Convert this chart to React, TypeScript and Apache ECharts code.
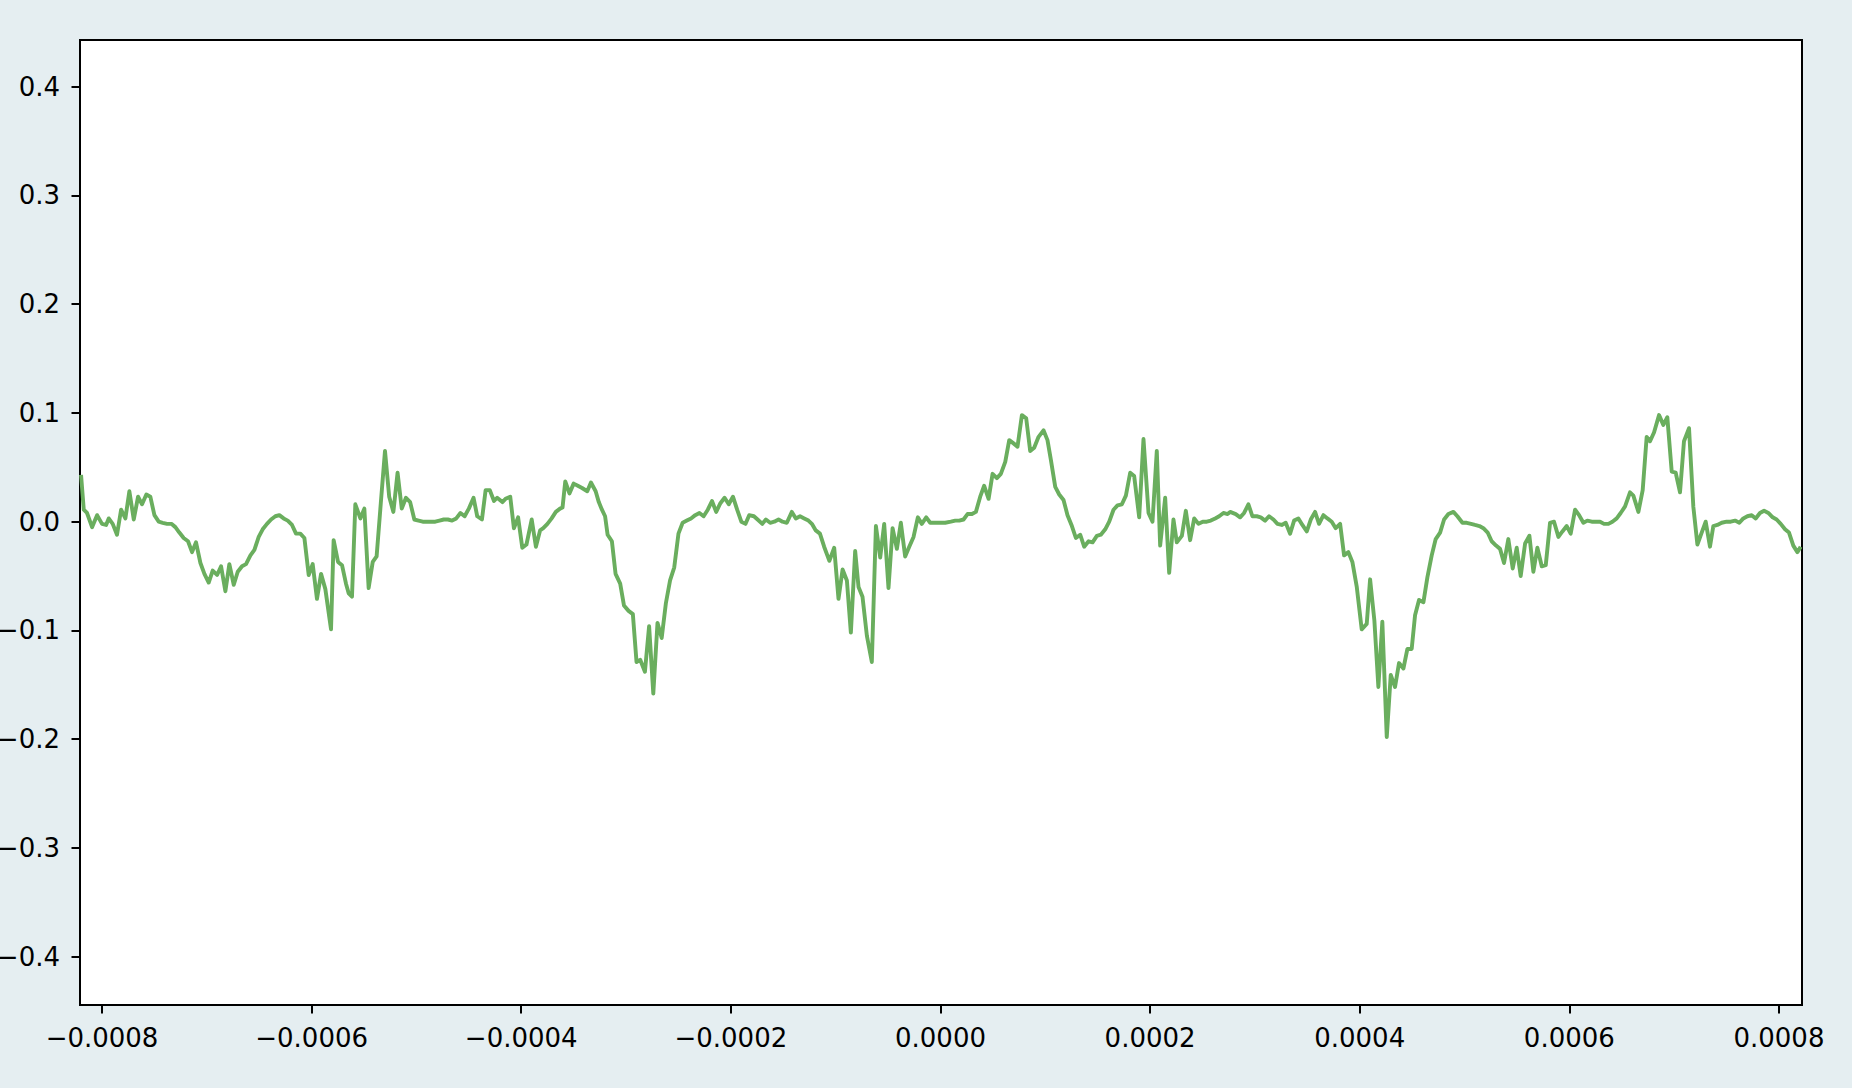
import React, { useEffect, useRef } from "react";
import * as echarts from "echarts";

// time in microseconds, signal value
const timeUs: number[] = [
  -820, -817.4, -814.3, -809.5, -804.7, -800, -796.1, -793.6, -789.8, -785.7,
  -781.8, -777.7, -773.9, -769.7, -765.6, -761.8, -757.7, -753.9, -750, -745.9,
  -742.1, -737.9, -733.8, -730, -726.2, -722.1, -717.9, -714.1, -710.3, -706.1,
  -702.3, -698.2, -694.4, -690.2, -686.4, -682.3, -678.5, -674.3, -670.5, -666.4,
  -662.6, -658.4, -654.6, -650.5, -646.7, -642.6, -638.7, -634.6, -630.8, -626.7,
  -622.8, -618.7, -614.9, -610.8, -606.9, -602.8, -599, -594.9, -591, -586.9,
  -583.1, -581.5, -579, -574.8, -571, -567.2, -564.6, -561.5, -558.3, -553.5,
  -549.7, -545.6, -541.7,
  -538, -534, -530, -526, -522, -518, -514, -510, -506, -502,
  -498, -494, -490, -486, -482, -478, -474, -470, -466, -462,
  -458, -454, -450, -445.5, -442, -437.5, -434, -430, -426, -423,
  -418, -415, -410.5, -407, -403, -399, -395, -390, -386, -382,
  -379, -375, -371, -367, -363, -360.6, -358, -354, -350, -346,
  -342, -337, -333.5, -329, -326, -323, -320, -317.6, -313.5, -310,
  -305.6, -302, -297.6, -293.5, -290, -286.5, -282, -278, -274, -270,
  -266, -262, -258, -254, -250, -246, -242, -238, -234, -230,
  -226, -222, -218, -214, -210, -206, -202, -198, -194, -190,
  -186, -182.5, -178, -174.5, -170, -166.6, -162.5, -158.6, -154.5, -150.7,
  -146.6, -141.8, -138, -134, -130, -126, -122.7, -119, -115, -111,
  -106, -101.4, -97.3, -93.4, -89.3, -85.5, -81.4, -78.2, -74.4, -70.2,
  -65.5, -61.6, -57.5, -53.7, -49.6, -45.7, -41.6, -37.8, -33.7, -29.8,
  -25.7, -21.6, -17.8, -13.6, -9.8, -5, 0, 4.5,
  9.9, 14.1, 17.9, 22, 25.8, 30, 33.8, 37.9, 41.7, 45.9,
  49.7, 53.8, 57.6, 61.8, 65.6, 69.7, 73.5, 77.7, 81.8, 85.6,
  89.4, 93.6, 98.3, 102.1, 105.3, 109.5, 113.3, 117.4, 121.2, 125.4,
  129.2, 133.3, 137.1, 141.3, 145.1, 149.2, 153, 157.2, 161, 165.1,
  168.9, 173.1, 176.9, 181, 184.8, 189.6, 193.7, 198.5, 202.3, 206.4,
  209.6, 214.4, 218.2, 222.3, 225.5, 230.3, 234.1, 238.2, 242.1, 246.2,
  250.3, 254.1, 257.9, 262.1, 265.9, 270, 273.9, 276.4,
  281.7, 285.9, 289.7, 293.8, 297.6, 301.8, 305.6, 309.7, 313.5, 317.7,
  321.5, 325.6, 329.4, 333.6, 337.4, 341.5, 345.3, 349.5, 353.3, 357.4,
  361.2, 365.4, 369.2, 373.3, 377.1, 381.3, 385.1, 389.2, 393, 397.2,
  401.9, 406.7, 409.9, 414, 417.8, 421.6, 425.8, 429.6, 433.7, 437.5,
  441.7, 445.5, 449.6, 452.8, 456.6, 460.8, 464.6, 468.7, 472.5, 476.7,
  480.5, 484.6, 489.4, 493.2, 498, 502.1, 506.2, 510, 514.2, 518,
  522.1, 525.9, 530.1, 533.9, 537.7, 541.8, 546,
  549.8, 553.6, 557.8, 561.9, 565.7, 569.5, 573.7, 577.5, 581.6, 585.4,
  589.6, 593.4, 597.5, 601.3, 605.5, 609.3, 613.4, 617.2, 621.4, 625.2,
  629.3, 633.1, 637.3, 641.1, 645.2, 649, 653.2, 657.9, 661.1, 665.9,
  670, 673.8, 677, 680.8, 685.6, 689.7, 693.5, 697.7, 701.5, 705.6,
  709.4, 714.2, 718.3, 722.2, 726.3, 730.1, 734.2, 737.4, 741.2, 745.4,
  750.1, 754, 758.1, 762.2, 766, 769.9, 774, 777.8, 781.9, 785.8,
  789.9, 794, 797.8, 801.7, 805.8, 809.6, 813.7, 817.6, 820.7,
];

const signal: number[] = [
  0.043, 0.011, 0.008, -0.005, 0.006, -0.002, -0.003, 0.003, -0.002, -0.012,
  0.011, 0.003, 0.028, 0.002, 0.023, 0.016, 0.025, 0.023, 0.006, 0.0,
  -0.001, -0.002, -0.002, -0.005, -0.01, -0.015, -0.018, -0.028, -0.019, -0.038,
  -0.048, -0.056, -0.045, -0.049, -0.041, -0.064, -0.039, -0.058, -0.046, -0.041,
  -0.039, -0.031, -0.026, -0.014, -0.007, -0.002, 0.002, 0.005, 0.006, 0.003,
  0.001, -0.003, -0.011, -0.011, -0.015, -0.049, -0.039, -0.071, -0.048, -0.062,
  -0.088, -0.099, -0.017, -0.037, -0.04, -0.057, -0.066, -0.069, 0.016, 0.003,
  0.012, -0.061, -0.037,
  -0.032, 0.017, 0.065, 0.023, 0.009, 0.045, 0.012, 0.022, 0.018, 0.002,
  0.001, 0.0, 0.0, 0.0, 0.0, 0.001, 0.002, 0.002, 0.001, 0.003,
  0.008, 0.005, 0.012, 0.022, 0.005, 0.002, 0.029, 0.029, 0.019, 0.022,
  0.018, 0.021, 0.023, -0.006, 0.004, -0.024, -0.021, 0.002, -0.023, -0.008,
  -0.006, -0.002, 0.003, 0.009, 0.012, 0.013, 0.037, 0.026, 0.035, 0.033,
  0.031, 0.028, 0.036, 0.028, 0.018, 0.011, 0.005, -0.012, -0.018, -0.048,
  -0.057, -0.077, -0.082, -0.085, -0.129, -0.127, -0.138, -0.096, -0.158, -0.093,
  -0.107, -0.075, -0.054, -0.042, -0.011, -0.001, 0.001, 0.003, 0.006, 0.008,
  0.005, 0.011, 0.019, 0.009, 0.017, 0.022, 0.016, 0.023, 0.011, 0.0,
  -0.002, 0.006, 0.005, 0.002, -0.002, 0.002, -0.001, 0.0, 0.002, 0.0,
  -0.001, 0.009, 0.003, 0.005, 0.003, 0.001, -0.002, -0.008, -0.011, -0.023,
  -0.036, -0.024, -0.071, -0.044, -0.054, -0.102, -0.027, -0.06, -0.069, -0.105,
  -0.129, -0.004, -0.033, -0.002, -0.061, -0.006, -0.025, -0.001, -0.032, -0.023,
  -0.014, 0.004, -0.002, 0.004, -0.001, -0.001, -0.001, -0.001,
  0.0, 0.001, 0.001, 0.002, 0.007, 0.007, 0.009, 0.023, 0.033, 0.021,
  0.044, 0.04, 0.044, 0.055, 0.075, 0.072, 0.069, 0.098, 0.095, 0.065,
  0.068, 0.078, 0.084, 0.075, 0.057, 0.032, 0.025, 0.02, 0.006, -0.004,
  -0.015, -0.012, -0.023, -0.018, -0.019, -0.013, -0.012, -0.007, 0.0, 0.011,
  0.015, 0.016, 0.024, 0.045, 0.042, 0.004, 0.076, 0.008, 0.0, 0.065,
  -0.022, 0.022, -0.047, 0.002, -0.019, -0.013, 0.01, -0.017, 0.003, -0.002,
  0.0, 0.0, 0.001, 0.003, 0.005, 0.008, 0.007, 0.009,
  0.007, 0.004, 0.008, 0.016, 0.005, 0.005, 0.004, 0.001, 0.005, 0.002,
  -0.002, -0.003, -0.001, -0.011, 0.001, 0.003, -0.003, -0.009, 0.002, 0.009,
  -0.002, 0.006, 0.003, 0.0, -0.006, -0.002, -0.031, -0.028, -0.037, -0.06,
  -0.099, -0.094, -0.053, -0.091, -0.152, -0.092, -0.198, -0.141, -0.152, -0.13,
  -0.135, -0.117, -0.117, -0.086, -0.072, -0.074, -0.051, -0.031, -0.016, -0.01,
  0.002, 0.007, 0.009, 0.005, -0.001, -0.001, -0.002, -0.003, -0.004, -0.006,
  -0.01, -0.018, -0.022, -0.025, -0.038, -0.016, -0.043,
  -0.024, -0.05, -0.02, -0.013, -0.046, -0.024, -0.041, -0.04, -0.001, 0.0,
  -0.014, -0.009, -0.004, -0.011, 0.011, 0.006, -0.001, 0.001, 0.0, 0.0,
  0.0, -0.002, -0.002, 0.0, 0.003, 0.008, 0.014, 0.027, 0.024, 0.009,
  0.029, 0.078, 0.074, 0.082, 0.098, 0.089, 0.096, 0.046, 0.045, 0.027,
  0.074, 0.086, 0.014, -0.021, -0.01, 0.0, -0.023, -0.004, -0.003, -0.001,
  0.0, 0.0, 0.001, -0.001, 0.003, 0.005, 0.006, 0.003, 0.008, 0.01,
  0.008, 0.004, 0.002, -0.002, -0.007, -0.01, -0.022, -0.028, -0.023,
];

const xTicks = [-0.0008, -0.0006, -0.0004, -0.0002, 0, 0.0002, 0.0004, 0.0006, 0.0008];
const yTicks = [-0.4, -0.3, -0.2, -0.1, 0, 0.1, 0.2, 0.3, 0.4];

const X_MIN = -0.000821;
const X_MAX = 0.000822;
const Y_MIN = -0.4444;
const Y_MAX = 0.4429;

const fmt = (v: number, d: number) => {
  const s = Math.abs(v).toFixed(d);
  return (v < 0 && Number(s) !== 0 ? "\u2212" : "") + s;
};

export default function App() {
  const ref = useRef<HTMLDivElement>(null);
  useEffect(() => {
    if (!ref.current) return;
    const chart = echarts.init(ref.current, null, { renderer: "svg" });
    const n = Math.min(timeUs.length, signal.length);
    const data: [number, number][] = [];
    for (let i = 0; i < n; i++) data.push([timeUs[i] * 1e-6, signal[i]]);
    const font = { fontFamily: "DejaVu Sans", fontSize: 26, color: "#000" };
    chart.setOption({
      animation: false,
      backgroundColor: "#e5eef1",
      grid: {
        left: 80,
        top: 40,
        right: 50,
        bottom: 83,
        show: true,
        containLabel: false,
        outerBoundsMode: "none",
        backgroundColor: "#ffffff",
        borderColor: "#000",
        borderWidth: 2,
      },
      xAxis: {
        type: "value",
        position: "bottom",
        min: X_MIN,
        max: X_MAX,
        splitLine: { show: false },
        axisLine: { show: false, onZero: false },
        axisTick: {
          show: true,
          inside: false,
          length: 8.5,
          lineStyle: { color: "#000", width: 2 },
          customValues: xTicks,
        },
        axisLabel: {
          ...font,
          margin: 20,
          customValues: xTicks,
          formatter: (v: number) => fmt(v, 4),
        },
      },
      yAxis: {
        type: "value",
        position: "left",
        min: Y_MIN,
        max: Y_MAX,
        splitLine: { show: false },
        axisLine: { show: false, onZero: false },
        axisTick: {
          show: true,
          inside: false,
          length: 8.5,
          lineStyle: { color: "#000", width: 2 },
          customValues: yTicks,
        },
        axisLabel: {
          ...font,
          margin: 20,
          customValues: yTicks,
          formatter: (v: number) => fmt(v, 1),
        },
      },
      series: [
        {
          type: "line",
          data,
          showSymbol: false,
          symbol: "none",
          lineStyle: { color: "#6aae5e", width: 3.9, join: "round" },
          clip: true,
        },
      ],
    });
    return () => chart.dispose();
  }, []);
  return (
    <div
      ref={ref}
      style={{ position: "fixed", left: 0, top: 0, width: 1852, height: 1088 }}
    />
  );
}
